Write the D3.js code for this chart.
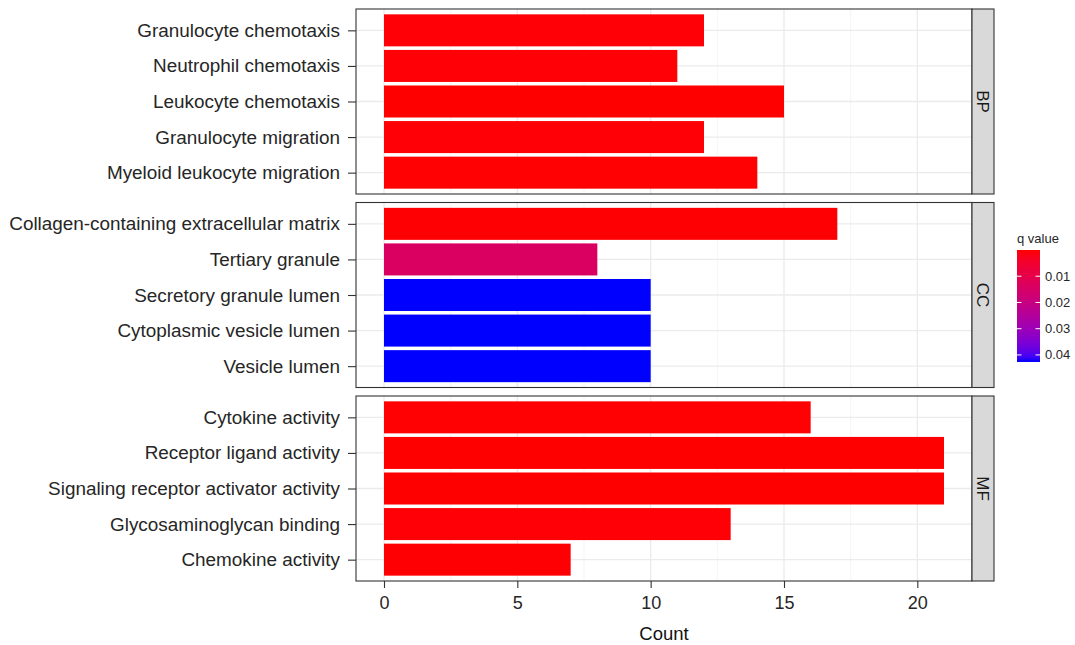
<!DOCTYPE html>
<html>
<head>
<meta charset="utf-8">
<script src="https://cdn.jsdelivr.net/npm/d3@7"></script>
<style>
  html, body { margin: 0; padding: 0; background: #fff; }
  svg { display: block; font-family: "Liberation Sans", Arial, Helvetica, sans-serif; }
</style>
</head>
<body>
<svg id="chart" width="1075" height="645"></svg>
<script>
// GO enrichment terms by ontology, listed top to bottom within each panel
const ontologies = ["BP", "CC", "MF"];
const bpTerms = ["Granulocyte chemotaxis", "Neutrophil chemotaxis", "Leukocyte chemotaxis", "Granulocyte migration", "Myeloid leukocyte migration"];
const bpCounts = [12, 11, 15, 12, 14];
const bpQ = [0.0004, 0.0004, 0.0001, 0.0004, 0.0002];

const ccTerms = ["Collagen-containing extracellular matrix", "Tertiary granule", "Secretory granule lumen", "Cytoplasmic vesicle lumen", "Vesicle lumen"];
const ccCounts = [17, 8, 10, 10, 10];
const ccQ = [0.0003, 0.0142, 0.0427, 0.0427, 0.0427];

const mfTerms = ["Cytokine activity", "Receptor ligand activity", "Signaling receptor activator activity", "Glycosaminoglycan binding", "Chemokine activity"];
const mfCounts = [16, 21, 21, 13, 7];
const mfQ = [0.0002, 0.0001, 0.0001, 0.0004, 0.0003];

const xTicks = [0, 5, 10, 15, 20];
const legendTicks = [0.01, 0.02, 0.03, 0.04];
const qDomain = [0.0, 0.0427];

const panels = [
  { name: ontologies[0], terms: bpTerms, counts: bpCounts, q: bpQ },
  { name: ontologies[1], terms: ccTerms, counts: ccCounts, q: ccQ },
  { name: ontologies[2], terms: mfTerms, counts: mfCounts, q: mfQ }
];

const svg = d3.select("#chart");
const plotLeft = 356, plotRight = 972, stripW = 22;
const panelTops = [9, 202.5, 396], panelH = 185;
const textCol = "#262626";

const x = d3.scaleLinear().domain([-1.05, 22.05]).range([plotLeft, plotRight]);
const color = d3.scaleLinear().domain(qDomain).range(["#FF0000", "#0000FF"]).interpolate(d3.interpolateLab);

panels.forEach((p, i) => {
  const top = panelTops[i];
  const y = d3.scalePoint().domain(p.terms).range([top, top + panelH]).padding(0.6);
  const step = y.step();
  const g = svg.append("g");

  // minor and major vertical grid
  const minor = d3.range(2.5, 22, 5);
  g.selectAll("line.minor").data(minor).join("line")
    .attr("x1", d => x(d)).attr("x2", d => x(d))
    .attr("y1", top).attr("y2", top + panelH)
    .attr("stroke", "#F2F2F2").attr("stroke-width", 0.8);
  g.selectAll("line.major").data(xTicks).join("line")
    .attr("x1", d => x(d)).attr("x2", d => x(d))
    .attr("y1", top).attr("y2", top + panelH)
    .attr("stroke", "#EBEBEB").attr("stroke-width", 1.3);
  g.selectAll("line.hgrid").data(p.terms).join("line")
    .attr("x1", plotLeft).attr("x2", plotRight)
    .attr("y1", d => y(d)).attr("y2", d => y(d))
    .attr("stroke", "#EBEBEB").attr("stroke-width", 1.3);

  // bars
  const bh = step * 0.9;
  g.selectAll("rect.bar").data(p.terms).join("rect")
    .attr("x", x(0))
    .attr("y", d => y(d) - bh / 2)
    .attr("width", (d, j) => x(p.counts[j]) - x(0))
    .attr("height", bh)
    .attr("fill", (d, j) => color(p.q[j]));

  // panel border
  g.append("rect").attr("x", plotLeft).attr("y", top).attr("width", plotRight - plotLeft).attr("height", panelH)
    .attr("fill", "none").attr("stroke", "#333").attr("stroke-width", 1.1);

  // y axis
  const yAxis = d3.axisLeft(y).tickSize(8).tickPadding(8);
  const ya = svg.append("g").attr("transform", `translate(${plotLeft},0)`).call(yAxis);
  ya.select(".domain").remove();
  ya.selectAll(".tick line").attr("stroke", "#333").attr("stroke-width", 1.1);
  ya.selectAll(".tick text").attr("fill", textCol).style("font-size", "18.9px")
    .style("font-family", "'Liberation Sans', Arial, sans-serif");

  // facet strip
  svg.append("rect").attr("x", plotRight).attr("y", top).attr("width", stripW).attr("height", panelH)
    .attr("fill", "#D9D9D9").attr("stroke", "#333").attr("stroke-width", 1.1);
  svg.append("text")
    .attr("transform", `translate(${plotRight + stripW / 2},${top + panelH / 2}) rotate(90)`)
    .attr("text-anchor", "middle").attr("dy", "0.35em")
    .attr("fill", "#1A1A1A").style("font-size", "17px")
    .text(p.name);
});

// x axis
const xAxis = d3.axisBottom(x).tickValues(xTicks).tickSize(7).tickPadding(8);
const xa = svg.append("g").attr("transform", `translate(0,${panelTops[2] + panelH})`).call(xAxis);
xa.select(".domain").remove();
xa.selectAll(".tick line").attr("stroke", "#333").attr("stroke-width", 1.1);
xa.selectAll(".tick text").attr("fill", textCol).style("font-size", "18px")
  .style("font-family", "'Liberation Sans', Arial, sans-serif");

svg.append("text").attr("x", (plotLeft + plotRight) / 2).attr("y", 640)
  .attr("text-anchor", "middle").attr("fill", "#111").style("font-size", "18.5px")
  .text("Count");

// colour bar legend
const lx = 1017, ly = 250, lw = 23, lh = 112;
const defs = svg.append("defs");
const grad = defs.append("linearGradient").attr("id", "qgrad")
  .attr("x1", 0).attr("y1", 0).attr("x2", 0).attr("y2", 1);
d3.range(0, 1.0001, 0.05).forEach(t => {
  grad.append("stop").attr("offset", t)
    .attr("stop-color", color(qDomain[0] + t * (qDomain[1] - qDomain[0])));
});
svg.append("text").attr("x", lx).attr("y", ly - 7).attr("fill", textCol)
  .style("font-size", "13px").text("q value");
svg.append("rect").attr("x", lx).attr("y", ly).attr("width", lw).attr("height", lh)
  .attr("fill", "url(#qgrad)");
const ql = d3.scaleLinear().domain(qDomain).range([ly, ly + lh]);
legendTicks.forEach(v => {
  const yy = ql(v);
  svg.append("line").attr("x1", lx).attr("x2", lx + 4.5).attr("y1", yy).attr("y2", yy)
    .attr("stroke", "#fff").attr("stroke-width", 1);
  svg.append("line").attr("x1", lx + lw - 4.5).attr("x2", lx + lw).attr("y1", yy).attr("y2", yy)
    .attr("stroke", "#fff").attr("stroke-width", 1);
  svg.append("text").attr("x", lx + lw + 5).attr("y", yy).attr("dy", "0.35em")
    .attr("fill", textCol).style("font-size", "13px").text(v.toFixed(2));
});
</script>
</body>
</html>
